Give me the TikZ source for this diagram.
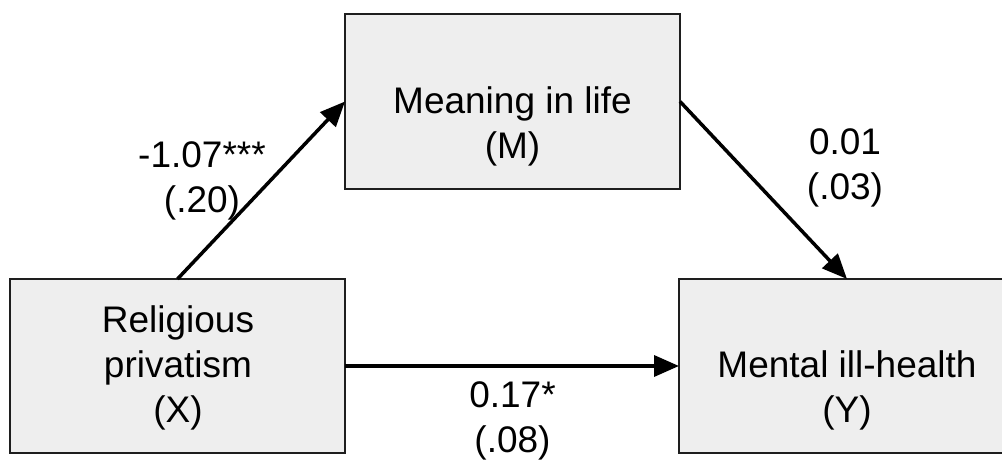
\documentclass[tikz,border=0pt]{standalone}
\usepackage{fontspec}
\setmainfont{Liberation Sans}
\usetikzlibrary{arrows.meta}
\definecolor{boxfill}{RGB}{238,238,238}
\definecolor{boxline}{RGB}{30,30,30}
\begin{document}
\begin{tikzpicture}[x=1pt,y=1pt,
  box/.style={draw=boxline, line width=2pt, fill=boxfill, minimum width=335pt, minimum height=174pt, inner sep=0pt, outer sep=0pt},
  txt/.style={font=\fontsize{37}{45}\selectfont, align=center, inner sep=0pt, anchor=base},
  arr/.style={line width=3.5pt, -{Triangle[length=25pt,width=21pt]}}]
\useasboundingbox (0,0) rectangle (1002,461);
\clip (0,0) rectangle (1002,461);
\node[box, minimum height=175pt] (M) at (512.5,359.5) {};
\node[box] (X) at (177.5,95) {};
\node[box, minimum width=336pt] (Y) at (847,95) {};
\node[txt] (Mt) at (512.5,302) {Meaning in life\\(M)};
\node[txt] (Xt) at (178,38) {Religious\\privatism\\(X)};
\node[txt] (Yt) at (847,38) {Mental ill-health\\(Y)};
\draw[arr] (X.north) -- (M.west);
\draw[arr] (M.east) -- (Y.north);
\draw[arr] (X.east) -- (Y.west);
\node[txt] (a) at (202,248) {-1.07***\\(.20)};
\node[txt] (b) at (845,261) {0.01\\(.03)};
\node[txt] (c) at (512.5,9) {0.17*\\(.08)};
\end{tikzpicture}
\end{document}
